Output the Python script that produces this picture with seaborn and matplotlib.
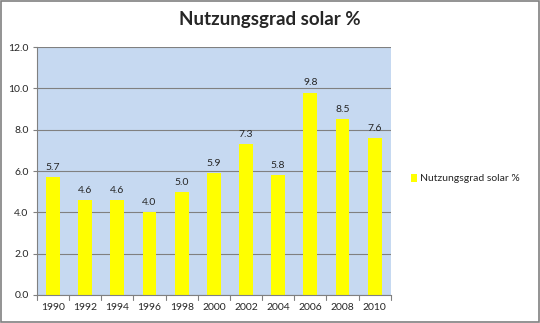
import matplotlib
matplotlib.use("Agg")
import matplotlib.pyplot as plt
import seaborn as sns
import pandas as pd
from matplotlib.patches import Rectangle

years = ["1990", "1992", "1994", "1996", "1998", "2000", "2002", "2004", "2006", "2008", "2010"]
values = [5.7, 4.6, 4.6, 4.0, 5.0, 5.9, 7.3, 5.8, 9.8, 8.5, 7.6]
series_name = "Nutzungsgrad solar %"
yticks = [0.0, 2.0, 4.0, 6.0, 8.0, 10.0, 12.0]

sns.set_style("white")
plt.rcParams['font.family'] = ['Lato', 'DejaVu Sans']

df = pd.DataFrame({"Jahr": years, "Wert": values, "Serie": series_name})

fig = plt.figure(figsize=(5.4, 3.23), dpi=100)
ax = fig.add_axes([0.0685, 0.087, 0.655, 0.767])
ax.set_facecolor("#C6D9F1")

sns.barplot(data=df, x="Jahr", y="Wert", hue="Serie", palette=["#FFFF00"],
            width=0.43, ax=ax, legend=True, saturation=1, linewidth=0)

ax.set_ylim(0, 12)
ax.set_xlim(-0.5, len(years) - 0.5)
ax.set_yticks(yticks)
ax.set_yticklabels([f"{v:.1f}" for v in yticks], fontsize=7.5)
ax.tick_params(axis="x", labelsize=7.5, length=0, pad=6)
ax.tick_params(axis="y", length=3, pad=3, color="#808080", left=True)
ax.set_xlabel("")
ax.set_ylabel("")
ax.yaxis.grid(True, color="#808080", linewidth=0.8)
ax.set_axisbelow(True)
for s in ["top", "right"]:
    ax.spines[s].set_visible(False)
ax.spines["left"].set_color("#808080")
ax.spines["bottom"].set_color("#808080")

# x tick marks between categories
for i in range(len(years) + 1):
    ax.plot([i - 0.5, i - 0.5], [0, -0.25], color="#808080", lw=0.8, clip_on=False)

for i, v in enumerate(values):
    ax.text(i, v + 0.25, f"{v:.1f}", ha="center", va="bottom", fontsize=7.5)

leg = ax.legend(loc="center left", bbox_to_anchor=(1.03, 0.47), frameon=False,
                fontsize=7.5, handlelength=0.6, handleheight=0.9, handletextpad=0.3)

fig.suptitle("Nutzungsgrad solar %", x=0.5, y=0.965, fontsize=13.5, fontweight="bold")

fig.patches.append(Rectangle((0.002, 0.003), 0.996, 0.994, transform=fig.transFigure,
                             fill=False, edgecolor="#808080", linewidth=1.2))

fig.savefig("out.png", dpi=100)
